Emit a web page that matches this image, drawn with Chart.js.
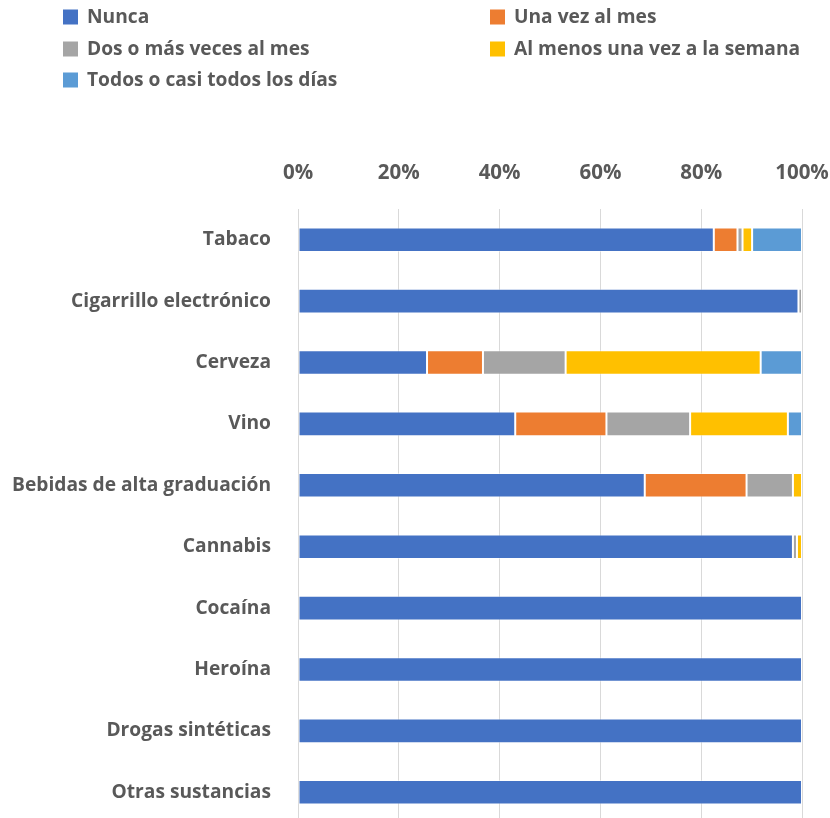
<!DOCTYPE html>
<html><head><meta charset="utf-8">
<script src="https://cdn.jsdelivr.net/npm/chart.js@4/dist/chart.umd.min.js"></script>
<style>
html,body{margin:0;padding:0;background:#fff;overflow:hidden;}
#wrap{width:830px;height:826px;position:relative;}
</style></head>
<body><div id="wrap"><canvas id="c" width="830" height="826"></canvas></div>
<script>
const categories = ["Tabaco","Cigarrillo electrónico","Cerveza","Vino","Bebidas de alta graduación","Cannabis","Cocaína","Heroína","Drogas sintéticas","Otras sustancias"];
const seriesNames = ["Nunca","Una vez al mes","Dos o más veces al mes","Al menos una vez a la semana","Todos o casi todos los días"];
const nunca      = [82.5, 99.3, 25.6, 43.1, 68.8, 98.2, 100, 100, 100, 100];
const unaVez     = [4.7,  0,    11.1, 18.1, 20.2, 0,    0,   0,   0,   0];
const dosOMas    = [1.0,  0.7,  16.4, 16.6, 9.2,  0.8,  0,   0,   0,   0];
const alMenos    = [1.9,  0,    38.7, 19.4, 1.8,  1.0,  0,   0,   0,   0];
const todos      = [9.9,  0,    8.2,  2.8,  0,    0,    0,   0,   0,   0];
const tickLabels = ["0%","20%","40%","60%","80%","100%"];
const colors = ["#4472C4","#ED7D31","#A5A5A5","#FFC000","#5B9BD5"];

const FONT = "'Open Sans'";
const TXT = "#595959";
const values = [nunca, unaVez, dosOMas, alMenos, todos];

const legendPlugin = {
  id: "customLegend",
  afterDraw(chart) {
    const ctx = chart.ctx;
    const pos = [[63,17],[490,17],[63,49],[490,49],[63,80]];
    ctx.save();
    ctx.font = "700 19.2px " + FONT;
    ctx.textBaseline = "middle";
    ctx.textAlign = "left";
    chart.data.datasets.forEach((ds, i) => {
      const [x, y] = pos[i];
      ctx.fillStyle = ds.backgroundColor;
      ctx.fillRect(x, y - 7.5, 15, 15);
      ctx.fillStyle = TXT;
      ctx.fillText(ds.label, x + 24, y + 1);
    });
    ctx.restore();
  }
};

function zeroPad(s) { s.paddingTop = 0; s.paddingBottom = 0; s.paddingLeft = 0; s.paddingRight = 0; }

new Chart(document.getElementById("c"), {
  type: "bar",
  data: {
    labels: categories,
    datasets: seriesNames.map((n, i) => ({
      label: n,
      data: values[i],
      backgroundColor: colors[i],
      borderColor: "rgba(255,255,255,0.45)",
      borderWidth: 1,
      borderSkipped: false,
      categoryPercentage: 1,
      barPercentage: 0.4
    }))
  },
  options: {
    indexAxis: "y",
    responsive: false,
    animation: false,
    devicePixelRatio: 1,
    layout: { padding: { left: 0, right: 28, top: 0, bottom: 3 } },
    plugins: { legend: { display: false }, tooltip: { enabled: false } },
    scales: {
      x: {
        position: "top",
        stacked: true,
        min: 0, max: 100,
        afterFit(s) { s.height = 209; zeroPad(s); },
        afterBuildTicks(s) { s.ticks = tickLabels.map((t, i) => ({ value: i * 20 })); },
        ticks: {
          padding: 24,
          color: TXT,
          font: { family: FONT, size: 20.5, weight: "700" },
          callback: (v, i) => tickLabels[i]
        },
        grid: { color: "#D9D9D9", lineWidth: 1, drawTicks: false },
        border: { display: false }
      },
      y: {
        stacked: true,
        afterFit(s) { s.width = 298; zeroPad(s); },
        ticks: {
          padding: 27,
          color: TXT,
          font: { family: FONT, size: 19.2, weight: "700" }
        },
        grid: { display: false, drawTicks: false },
        border: { display: false }
      }
    }
  },
  plugins: [legendPlugin]
});
</script></body></html>
